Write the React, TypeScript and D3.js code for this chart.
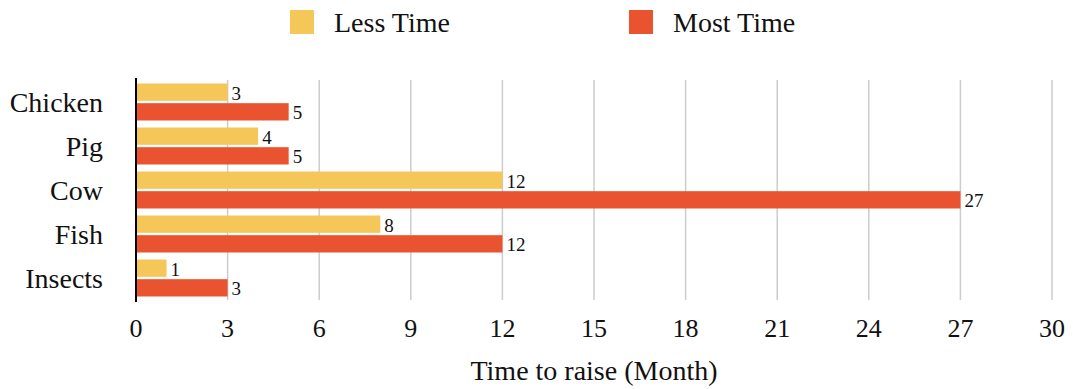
import React from "react";
import * as d3 from "d3";

const categories = ["Chicken", "Pig", "Cow", "Fish", "Insects"];
const lessTime = [3, 4, 12, 8, 1];
const mostTime = [5, 5, 27, 12, 3];
const seriesNames = ["Less Time", "Most Time"];
const seriesColors = ["#F4C758", "#E9532F"];
const xTicks = [0, 3, 6, 9, 12, 15, 18, 21, 24, 27, 30];

const WIDTH = 1073;
const HEIGHT = 389;
const FONT = "Liberation Serif";

export default function App() {
  const x = d3.scaleLinear().domain([0, 30]).range([136, 1052]);
  const y = d3
    .scaleBand()
    .domain(categories)
    .range([80, 300])
    .paddingInner(0.16)
    .paddingOuter(0.08);
  const ySub = d3
    .scaleBand()
    .domain(seriesNames)
    .range([0, y.bandwidth()])
    .paddingInner(0.12);

  const rows = categories.map((c, i) => ({
    cat: c,
    values: [lessTime[i], mostTime[i]]
  }));
  const legendX = [290, 629];

  return (
    <svg
      width={WIDTH}
      height={HEIGHT}
      fontFamily={FONT}
      style={{ position: "absolute", left: 0, top: 0, background: "#fff" }}
    >
      {/* grid */}
      {xTicks
        .filter(t => t !== 0)
        .map(t => (
          <line
            key={"g" + t}
            x1={x(t)}
            x2={x(t)}
            y1={80}
            y2={300}
            stroke="#cccccc"
            strokeWidth={1.5}
          />
        ))}

      {/* tick labels */}
      {xTicks.map(t => (
        <text key={"t" + t} x={x(t)} y={337} textAnchor="middle" fontSize={26} fill="#111">
          {t}
        </text>
      ))}

      <text x={594} y={380} textAnchor="middle" fontSize={28} fill="#111">
        Time to raise (Month)
      </text>

      {/* category labels */}
      {categories.map(c => (
        <text
          key={"c" + c}
          x={103}
          y={(y(c) as number) + y.bandwidth() / 2}
          dy="0.35em"
          textAnchor="end"
          fontSize={28}
          fill="#111"
        >
          {c}
        </text>
      ))}

      {/* bars + value labels */}
      {rows.map(r => (
        <g key={"r" + r.cat} transform={`translate(0,${y(r.cat)})`}>
          {r.values.map((v, j) => (
            <React.Fragment key={j}>
              <rect
                x={x(0)}
                y={ySub(seriesNames[j])}
                width={x(v) - x(0)}
                height={ySub.bandwidth()}
                fill={seriesColors[j]}
              />
              <text
                x={x(v) + 4}
                y={(ySub(seriesNames[j]) as number) + ySub.bandwidth() / 2}
                dy="0.4em"
                fontSize={19}
                fill="#111"
              >
                {v}
              </text>
            </React.Fragment>
          ))}
        </g>
      ))}

      {/* y axis line */}
      <line x1={x(0)} x2={x(0)} y1={78} y2={302} stroke="#000" strokeWidth={2} />

      {/* legend */}
      {seriesNames.map((name, i) => (
        <g key={"l" + name}>
          <rect x={legendX[i]} y={10} width={24} height={24} fill={seriesColors[i]} />
          <text x={legendX[i] + 44} y={22} dy="0.35em" fontSize={28} fill="#111">
            {name}
          </text>
        </g>
      ))}
    </svg>
  );
}
